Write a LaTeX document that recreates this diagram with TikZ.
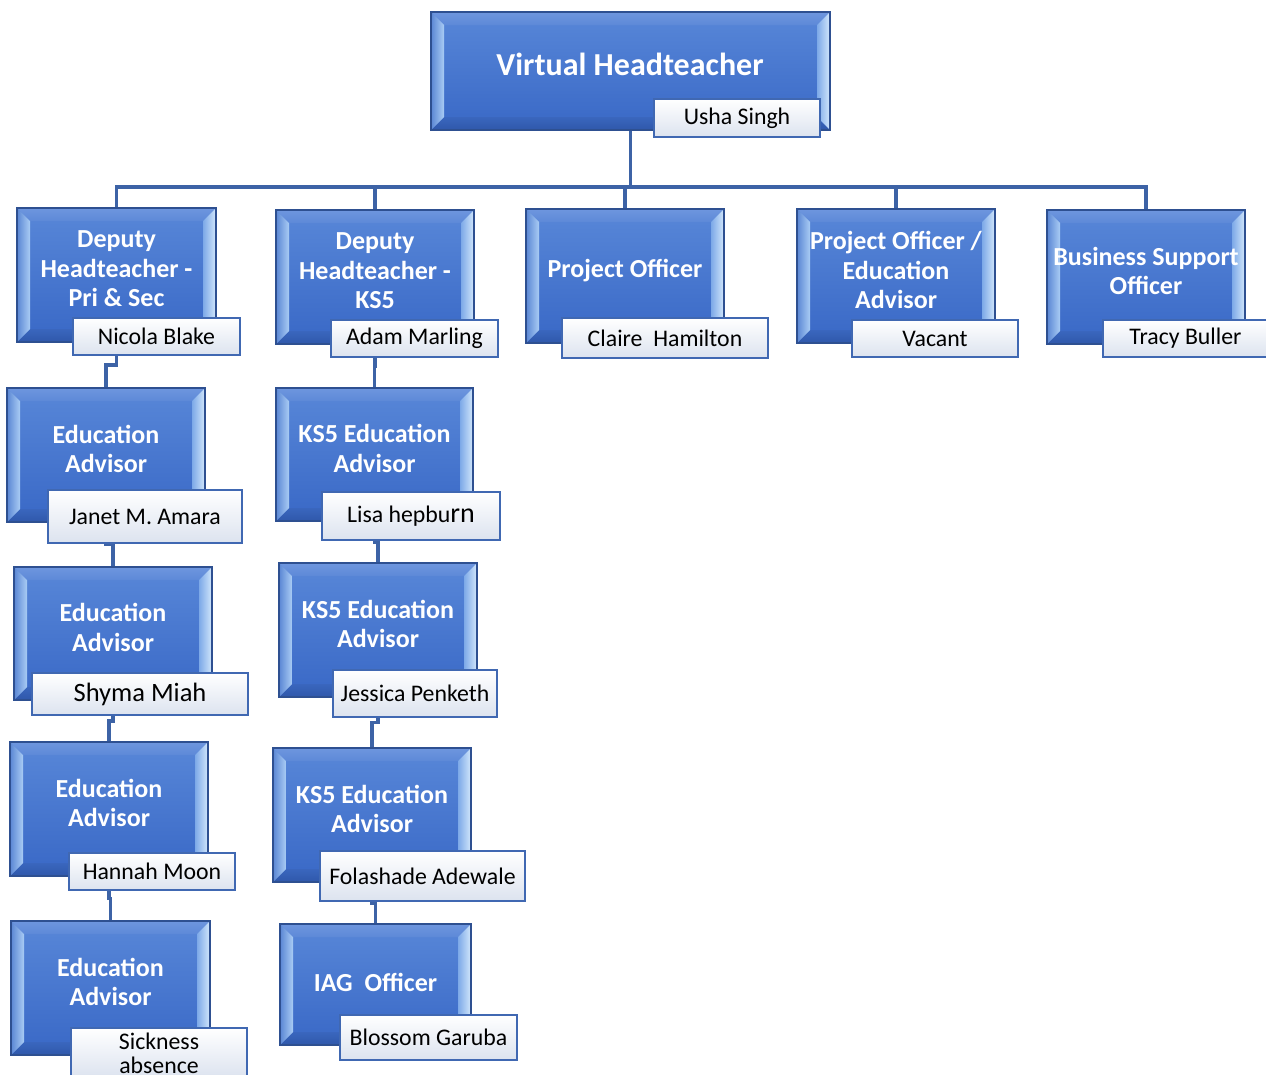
\documentclass[tikz,border=0pt]{standalone}
\usepackage{fontspec}
\setmainfont{Carlito}
\usetikzlibrary{calc,backgrounds}
\definecolor{faceTop}{HTML}{5887D8}
\definecolor{faceBot}{HTML}{3968C6}
\definecolor{boxedge}{HTML}{2E5091}
\definecolor{bevT1}{HTML}{6E96DE}
\definecolor{bevT2}{HTML}{5D89D8}
\definecolor{bevB1}{HTML}{3A66BE}
\definecolor{bevB2}{HTML}{2F58AA}
\definecolor{bevL1}{HTML}{5A86D4}
\definecolor{bevL2}{HTML}{A9CCF4}
\definecolor{bevR1}{HTML}{7DA9E8}
\definecolor{bevR2}{HTML}{D2E7FB}
\definecolor{nameedge}{HTML}{4068B2}
\definecolor{nameBot}{HTML}{DCE3EF}
\definecolor{lineblue}{HTML}{3D63A6}
\newcommand\myboxfont{\fontsize{26}{29.5}\selectfont\bfseries}
\newcommand\mynamefont{\fontsize{23.8}{24}\selectfont}
\begin{document}
\begin{tikzpicture}[x=1pt,y=-1pt,
  bluebox/.style={draw=boxedge, line width=1.2pt, top color=faceTop, bottom color=faceBot, inner sep=0pt,
    path picture={
      \coordinate (PSW) at (path picture bounding box.south west);
      \coordinate (PNE) at (path picture bounding box.north east);
      \coordinate (PNW) at (path picture bounding box.north west);
      \coordinate (PSE) at (path picture bounding box.south east);
      \path[top color=bevT1, bottom color=bevT2] (PNW) -- (PNE) -- ([shift={(-13pt,-13pt)}]PNE) -- ([shift={(13pt,-13pt)}]PNW) -- cycle;
      \path[top color=bevB1, bottom color=bevB2] (PSW) -- (PSE) -- ([shift={(-13pt,13pt)}]PSE) -- ([shift={(13pt,13pt)}]PSW) -- cycle;
      \path[left color=bevL1, right color=bevL2] (PNW) -- (PSW) -- ([shift={(13pt,13pt)}]PSW) -- ([shift={(13pt,-13pt)}]PNW) -- cycle;
      \path[left color=bevR1, right color=bevR2] (PNE) -- (PSE) -- ([shift={(-13pt,13pt)}]PSE) -- ([shift={(-13pt,-13pt)}]PNE) -- cycle;
    }},
  boxlabel/.style={text=white, font=\myboxfont, align=center, inner sep=0pt},
  namebox/.style={draw=nameedge, line width=1.8pt, top color=white, bottom color=nameBot, inner sep=0pt, text=black, font=\mynamefont, align=center},
  conn/.style={draw=lineblue, line width=3.2pt}
]
\useasboundingbox (0,0) rectangle (1266,1074);

% ---------- top ----------
\node[bluebox, minimum width=399pt, minimum height=118pt] (vh) at (630.5,71) {};
\node[text=white, font=\fontsize{32}{36}\selectfont\bfseries, inner sep=0pt] (vhl) at (630,64) {Virtual Headteacher};
\node[namebox, minimum width=166pt, minimum height=38pt] (vhn) at (737,118) {Usha Singh};

% ---------- first row ----------
\node[bluebox, minimum width=199pt, minimum height=134pt] (d1) at (116.5,275) {};
\node[boxlabel] (d1l) at ([yshift=6pt]d1.center) {Deputy\\Headteacher -\\Pri \& Sec};
\node[namebox, minimum width=167pt, minimum height=37pt] (d1n) at (156.5,336.5) {Nicola Blake};

\node[bluebox, minimum width=198pt, minimum height=134pt] (d2) at (375,277) {};
\node[boxlabel] (d2l) at ([yshift=6pt]d2.center) {Deputy\\Headteacher -\\KS5};
\node[namebox, minimum width=167pt, minimum height=37pt] (d2n) at (414.5,338.5) {Adam Marling};

\node[bluebox, minimum width=198pt, minimum height=134pt] (p1) at (625,276) {};
\node[boxlabel] (p1l) at ([yshift=5pt]p1.center) {Project Officer};
\node[namebox, minimum width=206pt, minimum height=40pt] (p1n) at (665,338) {Claire\ \ Hamilton};

\node[bluebox, minimum width=198pt, minimum height=134pt] (p2) at (896,276) {};
\node[boxlabel] (p2l) at ([yshift=6pt]p2.center) {Project Officer /\\Education\\Advisor};
\node[namebox, minimum width=166pt, minimum height=37pt] (p2n) at (935,338.5) {Vacant};

\node[bluebox, minimum width=198pt, minimum height=134pt] (bs) at (1146,277) {};
\node[boxlabel] (bsl) at ([yshift=6pt]bs.center) {Business Support\\Officer};
\node[namebox, minimum width=165pt, minimum height=37pt] (bsn) at (1185.5,338.5) {Tracy Buller};

% ---------- column 1 ----------
\node[bluebox, minimum width=198pt, minimum height=134pt] (e1) at (106,455) {};
\node[boxlabel] (e1l) at ([yshift=6pt]e1.center) {Education\\Advisor};
\node[namebox, minimum width=194pt, minimum height=53pt] (e1n) at (145,516.5) {Janet M. Amara};

\node[bluebox, minimum width=198pt, minimum height=133pt] (e2) at (113,633.5) {};
\node[boxlabel] (e2l) at ([yshift=6pt]e2.center) {Education\\Advisor};
\node[namebox, minimum width=216pt, minimum height=42pt, font=\fontsize{26.5}{28}\selectfont] (e2n) at (140,694) {Shyma Miah};

\node[bluebox, minimum width=198pt, minimum height=134pt] (e3) at (109,809) {};
\node[boxlabel] (e3l) at ([yshift=6pt]e3.center) {Education\\Advisor};
\node[namebox, minimum width=166pt, minimum height=37pt] (e3n) at (152,871.5) {Hannah Moon};

\node[bluebox, minimum width=199pt, minimum height=134pt] (e4) at (110.5,988) {};
\node[boxlabel] (e4l) at ([yshift=6pt]e4.center) {Education\\Advisor};
\node[namebox, minimum width=176pt, minimum height=50pt] (e4n) at (159,1053) {Sickness\\absence};

% ---------- column 2 ----------
\node[bluebox, minimum width=197pt, minimum height=133pt] (k1) at (374.5,454.5) {};
\node[boxlabel] (k1l) at ([yshift=6pt]k1.center) {KS5 Education\\Advisor};
\node[namebox, minimum width=178pt, minimum height=48pt] (k1n) at (411,516) {Lisa hepbu{\fontsize{28}{28}\selectfont rn}};

\node[bluebox, minimum width=198pt, minimum height=134pt] (k2) at (378,630) {};
\node[boxlabel] (k2l) at ([yshift=6pt]k2.center) {KS5 Education\\Advisor};
\node[namebox, minimum width=164pt, minimum height=47pt] (k2n) at (415,693.5) {Jessica Penketh};

\node[bluebox, minimum width=198pt, minimum height=134pt] (k3) at (372,815) {};
\node[boxlabel] (k3l) at ([yshift=6pt]k3.center) {KS5 Education\\Advisor};
\node[namebox, minimum width=205pt, minimum height=50pt] (k3n) at (422.5,876) {Folashade Adewale};

\node[bluebox, minimum width=191pt, minimum height=121pt] (iag) at (375.5,984.5) {};
\node[boxlabel] (iagl) at ([yshift=2pt]iag.center) {IAG\ \ Officer};
\node[namebox, minimum width=177pt, minimum height=45pt] (iagn) at (428.5,1037.5) {Blossom Garuba};

% ---------- connectors ----------
\begin{pgfonlayer}{background}
\fill[white] (0,0) rectangle (1266,1074);
\coordinate (hbar) at (0,187);
\draw[conn] (vh.south) -- (vh.south |- hbar) -| (d1.north);
\draw[conn] (vh.south |- hbar) -| (d2.north);
\draw[conn] (vh.south |- hbar) -| (p1.north);
\draw[conn] (vh.south |- hbar) -| (p2.north);
\draw[conn] (vh.south |- hbar) -| (bs.north);
\draw[conn] (d1.south) |- ($(d1.south)!0.5!(e1.north)$) -| (e1.north);
\draw[conn] (e1.south) |- ($(e1.south)!0.5!(e2.north)$) -| (e2.north);
\draw[conn] (e2.south) |- ($(e2.south)!0.5!(e3.north)$) -| (e3.north);
\draw[conn] (e3.south) |- ($(e3.south)!0.5!(e4.north)$) -| (e4.north);
\draw[conn] (d2.south) |- ($(d2.south)!0.5!(k1.north)$) -| (k1.north);
\draw[conn] (k1.south) |- ($(k1.south)!0.5!(k2.north)$) -| (k2.north);
\draw[conn] (k2.south) |- ($(k2.south)!0.5!(k3.north)$) -| (k3.north);
\draw[conn] (k3.south) |- ($(k3.south)!0.5!(iag.north)$) -| (iag.north);
\end{pgfonlayer}
\end{tikzpicture}
\end{document}
